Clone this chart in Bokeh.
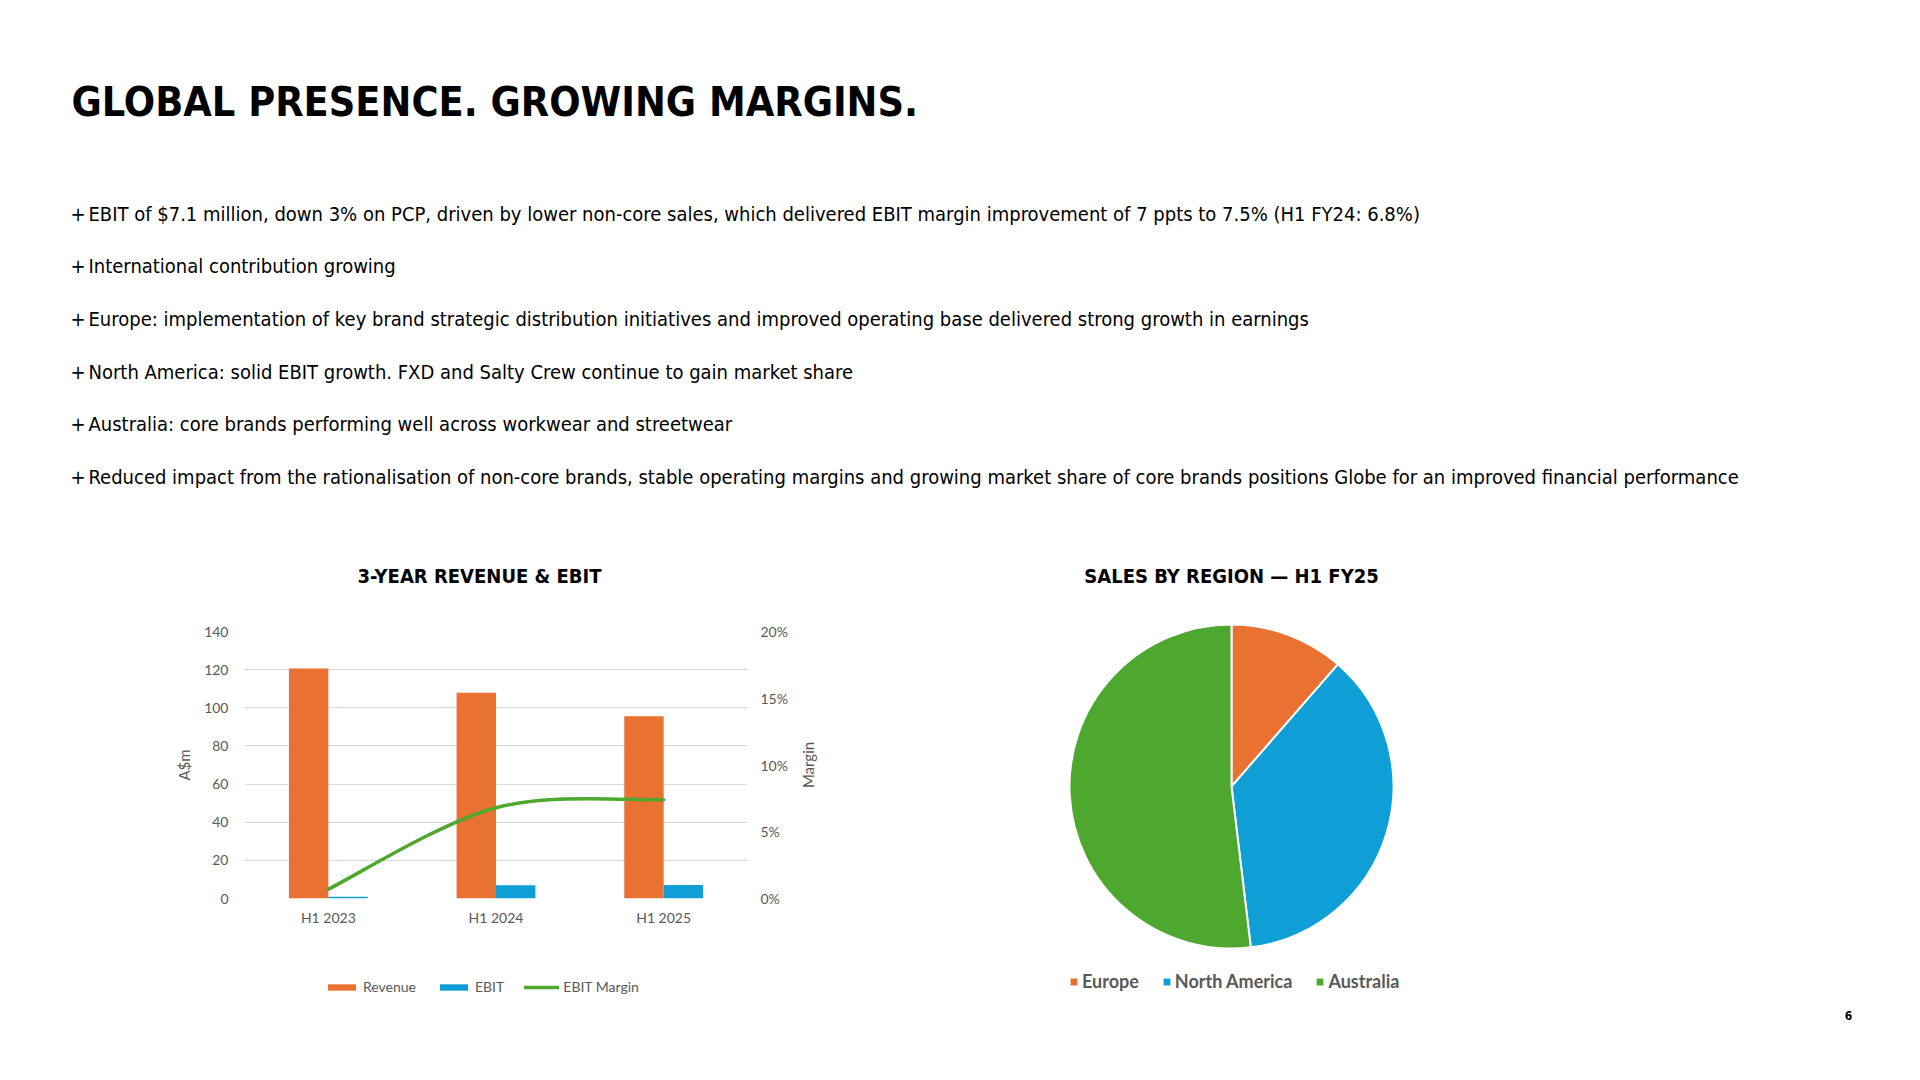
import math
import numpy as np
from bokeh.plotting import figure
from bokeh.models import (Range1d, LinearAxis, FixedTicker, PrintfTickFormatter,
                          Legend, LegendItem, ColumnDataSource)
from bokeh.layouts import column, row
from bokeh.embed import file_html
from bokeh.resources import INLINE
from bokeh.core.properties import value
from bokeh.transform import dodge

# ---------------- data ----------------
heading = "GLOBAL PRESENCE. GROWING MARGINS."
bullets = [
    "EBIT of $7.1 million, down 3% on PCP, driven by lower non-core sales, which delivered EBIT margin improvement of 7 ppts to 7.5% (H1 FY24: 6.8%)",
    "International contribution growing",
    "Europe: implementation of key brand strategic distribution initiatives and improved operating base delivered strong growth in earnings",
    "North America: solid EBIT growth. FXD and Salty Crew continue to gain market share",
    "Australia: core brands performing well across workwear and streetwear",
    "Reduced impact from the rationalisation of non-core brands, stable operating margins and growing market share of core brands positions Globe for an improved financial performance",
]
bar_title = "3-YEAR REVENUE & EBIT"
periods = ["H1 2023", "H1 2024", "H1 2025"]
revenue = [120.6, 107.9, 95.6]
ebit = [0.9, 7.0, 7.1]
ebit_margin = [0.7, 6.8, 7.4]
left_ticks = [0, 20, 40, 60, 80, 100, 120, 140]
right_ticks = [0, 5, 10, 15, 20]
left_axis_title = "A$m"
right_axis_title = "Margin"

pie_title = "SALES BY REGION \u2014 H1 FY25"
regions = ["Europe", "North America", "Australia"]
region_share = [11.4, 36.7, 51.9]
page_number = "6"

# ---------------- styles ----------------
NARROW = "DejaVu Sans Condensed"
CHART = "Lato"
GREY = "#595959"
ORANGE = "#E97132"
BLUE = "#0F9ED5"
GREEN = "#4EA72E"
BL = 244          # left border of the bar-chart frame
BAR_W = 795       # width of the bar-chart figure (frame ends at 747)
BT, BB = 31, 52   # top / bottom border of the bar-chart frame


def bare(p):
    p.axis.visible = False
    p.grid.visible = False
    p.outline_line_color = None
    p.background_fill_color = "white"
    p.border_fill_color = "white"


def fig(w, h, xr, yr, **kw):
    return figure(width=w, height=h, x_range=xr, y_range=yr, output_backend="svg",
                  toolbar_location=None, **kw)


# ---------------- top: heading + bullets ----------------
top = fig(1920, 540, Range1d(0, 1920), Range1d(540, 0), min_border=0)
bare(top)
top.text(x=[71], y=[101], text=[heading], text_font=value(NARROW), text_font_style="bold",
         text_font_size="41px", text_baseline="middle", text_color="#000000")
by = [213 + 52.7 * i for i in range(len(bullets))]
top.text(x=[70] * len(bullets), y=by, text=["+"] * len(bullets), text_font=value(NARROW),
         text_font_size="20px", text_baseline="middle", text_color="#000000")
top.text(x=[88] * len(bullets), y=by, text=bullets, text_font=value(NARROW),
         text_font_size="20px", text_baseline="middle", text_color="#000000")

# ---------------- bar chart: title strip ----------------
btitle = fig(960, 60, Range1d(BL, 960), Range1d(600, 540),
             min_border_left=BL, min_border_right=0, min_border_top=0, min_border_bottom=0)
bare(btitle)
btitle.text(x=[479], y=[575], text=[bar_title], text_font=value(NARROW), text_font_style="bold",
            text_font_size="20px", text_align="center", text_baseline="middle",
            text_color="#000000")

# ---------------- bar chart ----------------
bar = fig(BAR_W, 350, Range1d(-0.5, 2.5), Range1d(0, 140),
          min_border_left=BL, min_border_right=BAR_W - 747, min_border_top=BT,
          min_border_bottom=BB)
bar.outline_line_color = None
bar.extra_y_ranges = {"margin": Range1d(0, 20)}

xs = list(range(len(periods)))
src = ColumnDataSource(dict(x=xs, revenue=revenue, ebit=ebit))
rev_style = dict(fill_color=ORANGE, line_color=None)
ebit_style = dict(fill_color=BLUE, line_color=None)
line_style = dict(line_color=GREEN, line_width=3.5, line_cap="round")

bar.vbar(x=dodge("x", -0.1175), top="revenue", width=0.235, source=src, **rev_style)
bar.vbar(x=dodge("x", 0.1175), top="ebit", width=0.235, source=src, **ebit_style)

# smooth (Excel-style) line through the margin points
px = np.array(xs, dtype=float)
py = np.array(ebit_margin, dtype=float)
ppx = np.concatenate([[px[0]], px, [px[-1]]])
ppy = np.concatenate([[py[0]], py, [py[-1]]])
i = np.arange(len(px) - 1)
cx0 = ppx[i + 1] + (ppx[i + 2] - ppx[i]) / 6
cy0 = ppy[i + 1] + (ppy[i + 2] - ppy[i]) / 6
cx1 = ppx[i + 2] - (ppx[i + 3] - ppx[i + 1]) / 6
cy1 = ppy[i + 2] - (ppy[i + 3] - ppy[i + 1]) / 6
bar.bezier(x0=px[:-1], y0=py[:-1], x1=px[1:], y1=py[1:], cx0=cx0, cy0=cy0,
           cx1=cx1, cy1=cy1, y_range_name="margin", **line_style)

bar.xgrid.visible = False
bar.ygrid.grid_line_color = "#D9D9D9"
bar.ygrid.grid_line_width = 1

yl = bar.yaxis[0]
yl.ticker = FixedTicker(ticks=left_ticks)
yl.axis_label = left_axis_title

yr = LinearAxis(y_range_name="margin", ticker=FixedTicker(ticks=right_ticks),
                formatter=PrintfTickFormatter(format="%d%%"))
bar.add_layout(yr, "right")

xa = bar.xaxis[0]
xa.ticker = FixedTicker(ticks=xs)
xa.major_label_overrides = {float(k): lab for k, lab in zip(xs, periods)}

for ax in [yl, yr, xa]:
    ax.axis_line_color = None
    ax.major_tick_line_color = None
    ax.major_tick_out = 0
    ax.major_tick_in = 0
    ax.minor_tick_line_color = None
    ax.minor_tick_out = 0
    ax.major_label_text_color = GREY
    ax.major_label_text_font = CHART
    ax.major_label_text_font_size = "14px"
    ax.axis_label_text_color = GREY
    ax.axis_label_text_font = CHART
    ax.axis_label_text_font_size = "15px"
    ax.axis_label_text_font_style = "normal"
yl.major_label_standoff = 16
yr.major_label_standoff = 13
xa.major_label_standoff = 10
yl.axis_label_standoff = 8

# right axis title, in a strip whose frame spans the same height as the chart frame
mlab = fig(960 - BAR_W, 350, Range1d(BAR_W, 960), Range1d(0, 1),
           min_border_left=0, min_border_right=0, min_border_top=BT, min_border_bottom=BB)
bare(mlab)
mlab.text(x=[807], y=[0.5], text=[right_axis_title], angle=math.pi / 2,
          text_font=value(CHART), text_font_size="15px", text_align="center",
          text_baseline="middle", text_color=GREY)

# ---------------- bar chart: legend strip ----------------
# hidden renderers that share the chart's data and styles; only their legend entries show
bleg = fig(960, 130, Range1d(-0.5, 2.5), Range1d(0, 140),
           min_border_left=BL, min_border_right=0, min_border_top=0, min_border_bottom=0)
bare(bleg)
k_rev = bleg.vbar(x="x", top="revenue", width=0.235, source=src, **rev_style)
k_ebit = bleg.vbar(x="x", top="ebit", width=0.235, source=src, **ebit_style)
k_line = bleg.line(x=xs, y=ebit_margin, **line_style)
for r in (k_rev, k_ebit, k_line):
    r.visible = False
bleg.add_layout(Legend(items=[LegendItem(label="Revenue", renderers=[k_rev]),
                              LegendItem(label="EBIT", renderers=[k_ebit]),
                              LegendItem(label="EBIT Margin", renderers=[k_line])],
                       orientation="horizontal", location=(80, 85), glyph_width=35,
                       glyph_height=8, label_standoff=4, spacing=20, padding=0, margin=0,
                       border_line_color=None, background_fill_alpha=0,
                       inactive_fill_alpha=0,
                       label_text_font=CHART, label_text_font_size="14px",
                       label_text_color=GREY))

left = column(btitle, row(bar, mlab, spacing=0), bleg, spacing=0)

# ---------------- pie chart ----------------
pie = fig(960, 540, Range1d(0, 960), Range1d(0, 540), min_border=0)
bare(pie)
shares = np.array(region_share, dtype=float)
frac = shares / shares.sum()
cum = np.concatenate([[0], np.cumsum(frac)])
psrc = ColumnDataSource(dict(region=regions,
                             start=math.pi / 2 - 2 * math.pi * cum[:-1],
                             end=math.pi / 2 - 2 * math.pi * cum[1:],
                             color=[ORANGE, BLUE, GREEN]))
r_pie = pie.wedge(x=271, y=294, radius=162, start_angle="start", end_angle="end",
                  direction="clock", fill_color="color", line_color="white", line_width=2,
                  source=psrc)
pie.text(x=[271], y=[505], text=[pie_title], text_font=value(NARROW), text_font_style="bold",
         text_font_size="20px", text_align="center", text_baseline="middle", text_color="#000000")
pie.add_layout(Legend(items=[LegendItem(label=r, renderers=[r_pie], index=k)
                             for k, r in enumerate(regions)],
                      orientation="horizontal", location=(108, 88), glyph_width=11,
                      glyph_height=11, label_standoff=3, spacing=22, padding=0, margin=0,
                      border_line_color=None, background_fill_alpha=0,
                      label_text_font=CHART, label_text_font_style="bold",
                      label_text_font_size="18px", label_text_color=GREY))
pie.text(x=[888], y=[65], text=[page_number], text_font=value(NARROW), text_font_style="bold",
         text_font_size="12px", text_align="center", text_baseline="middle", text_color="#000000")

layout = column(top, row(left, column(pie, spacing=0), spacing=0), spacing=0)
open("out.html", "w").write(file_html(layout, INLINE))
